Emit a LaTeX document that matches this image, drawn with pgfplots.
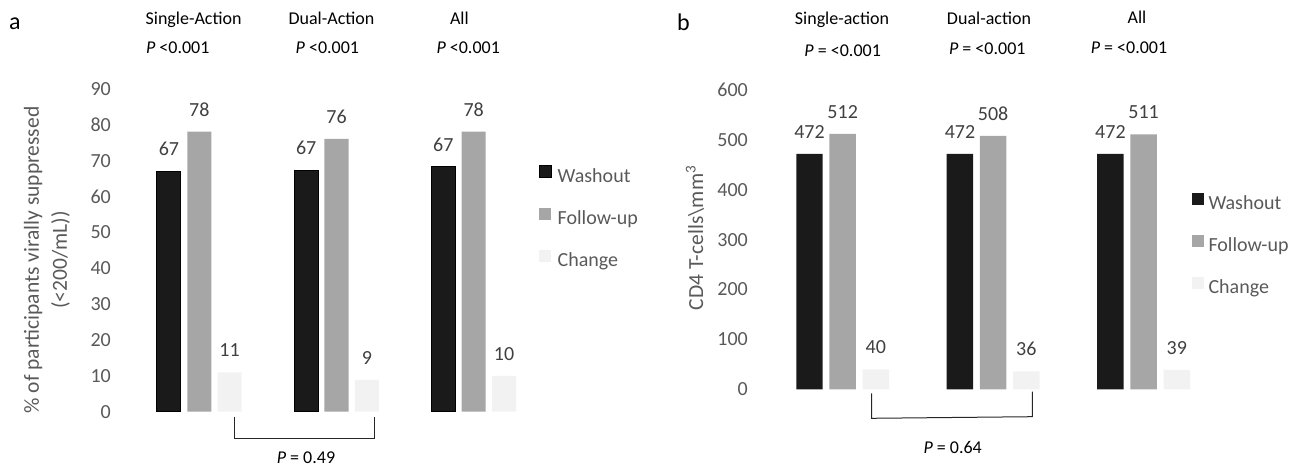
\documentclass[border=0pt]{standalone}
\usepackage{pgfplots}
\pgfplotsset{compat=1.18}
\usepackage{fontspec}
\setmainfont{Carlito}
\definecolor{wash}{HTML}{1A1A1A}
\definecolor{foll}{HTML}{A6A6A6}
\definecolor{chg}{HTML}{F2F2F2}
\definecolor{tickgray}{HTML}{595959}
\definecolor{lblgray}{HTML}{404040}
\newcommand{\fs}[1]{\fontsize{#1bp}{#1bp}\selectfont}
\pgfplotsset{
 mybars/.style={
  ybar, scale only axis, anchor=south west,
  axis line style={draw=none},
  ytick style={draw=none}, xtick=\empty,
  major tick length=0pt,
  /pgf/number format/assume math mode=true,
  yticklabel style={font=\fs{20}, text=tickgray, inner sep=0pt, anchor=east},
  xmax=2.5, ymin=0,
  clip=false,
  nodes near coords, point meta=explicit symbolic,
  nodes near coords style={font=\fs{20}, text=lblgray, anchor=base, yshift=15.5bp, inner sep=0pt},
  legend cell align=left,
  legend image code/.code={\path[##1] (0bp,0bp) rectangle (12bp,12bp);},
  legend style={draw=none, fill=none, inner sep=0pt, anchor=north west, row sep=21bp,
    nodes={inner sep=0pt, text height=14bp, text depth=4bp, font=\fs{20}, text=tickgray}},
 }
}
\begin{document}
\begin{tikzpicture}
\path[use as bounding box] (0,0) rectangle (1311bp,470bp);
% ---------------- panel a
\begin{axis}[mybars, at={(111bp,58.3bp)}, width=431.3bp, height=322.7bp,
  xmin=-0.6436, ymax=90, ytick={0,10,...,90},
  legend style={at={(0.9912,0.7645)}, /tikz/every odd column/.append style={column sep=6bp}}]
\addplot[fill=wash, draw=black, line width=1bp, bar width=0.175, bar shift=-0.221]
  coordinates {(0,67.1) [67] (1,67.4) [67] (2,68.3) [67]};
\addplot[fill=foll, draw=none, bar width=0.175, bar shift=0]
  coordinates {(0,78.1) [78] (1,76.1) [76] (2,78.1) [78]};
\addplot[fill=chg, draw=none, bar width=0.175, bar shift=0.221]
  coordinates {(0,11) [11] (1,8.9) [9] (2,10) [10]};
\legend{Washout, Follow-up, Change}
\end{axis}
% ---------------- panel b
\begin{axis}[mybars, at={(748bp,80.7bp)}, width=470.85bp, height=299.3bp,
  xmin=-0.6292, ymax=600, ytick={0,100,...,600},
  legend style={at={(0.9415,0.6569)}, /tikz/every odd column/.append style={column sep=5bp}}]
\addplot[fill=wash, draw=none, bar width=0.176, bar shift=-0.2205]
  coordinates {(0,472) [472] (1,472) [472] (2,472) [472]};
\addplot[fill=foll, draw=none, bar width=0.176, bar shift=0]
  coordinates {(0,512) [512] (1,508) [508] (2,511) [511]};
\addplot[fill=chg, draw=none, bar width=0.176, bar shift=0.2205]
  coordinates {(0,40) [40] (1,36) [36] (2,39) [39]};
\legend{Washout, Follow-up, Change}
\end{axis}
% ---------------- annotations
\begin{scope}[x=1bp,y=1bp]
\node[font=\fs{24}, anchor=base west, inner sep=0pt] at (9,440) {a};
\node[font=\fs{24}, anchor=base west, inner sep=0pt] at (677,439) {b};
% panel a headers
\node[font=\fs{18}, anchor=base, inner sep=0pt] at (193.6,445.5) {Single-Action};
\node[font=\fs{18}, anchor=base, inner sep=0pt] at (331.5,445.5) {Dual-Action};
\node[font=\fs{18}, anchor=base, inner sep=0pt] at (459.4,445.5) {All};
\node[font=\fs{18}, anchor=base, inner sep=0pt] at (177.8,416.7) {\textit{P} <0.001};
\node[font=\fs{18}, anchor=base, inner sep=0pt] at (327.4,416.7) {\textit{P} <0.001};
\node[font=\fs{18}, anchor=base, inner sep=0pt] at (468.2,416.7) {\textit{P} <0.001};
% panel b headers
\node[font=\fs{18}, anchor=base, inner sep=0pt] at (842,445) {Single-action};
\node[font=\fs{18}, anchor=base, inner sep=0pt] at (989,445) {Dual-action};
\node[font=\fs{18}, anchor=base, inner sep=0pt] at (1137,446) {All};
\node[font=\fs{18}, anchor=base, inner sep=0pt] at (842.7,413.3) {\textit{P} = <0.001};
\node[font=\fs{18}, anchor=base, inner sep=0pt] at (987.3,415) {\textit{P} = <0.001};
\node[font=\fs{18}, anchor=base, inner sep=0pt] at (1129,416.7) {\textit{P} = <0.001};
% y labels
\node[rotate=90, align=center, font=\fontsize{21.5bp}{28bp}\selectfont, text=tickgray, inner sep=0pt]
  at (47,210) {\% of participants virally suppressed\\(<200/mL))};
\node[rotate=90, font=\fs{21.5}, text=tickgray, inner sep=0pt]
  at (695,232) {CD4 T-cells\textbackslash mm\textsuperscript{3}};
% brackets
\draw[line width=1bp, black!85] (234.8,53.3) -- (234.8,31.7) -- (374.6,31.7) -- (374.6,53.3);
\node[font=\fs{18}, anchor=base, inner sep=0pt] at (306,7) {\textit{P} = 0.49};
\draw[line width=1bp, black!85] (871.7,76.7) -- (871.7,51.7) -- (1032.4,53.3) -- (1032.4,78.3);
\node[font=\fs{18}, anchor=base, inner sep=0pt] at (952.7,16.7) {\textit{P} = 0.64};
\end{scope}
\end{tikzpicture}
\end{document}
